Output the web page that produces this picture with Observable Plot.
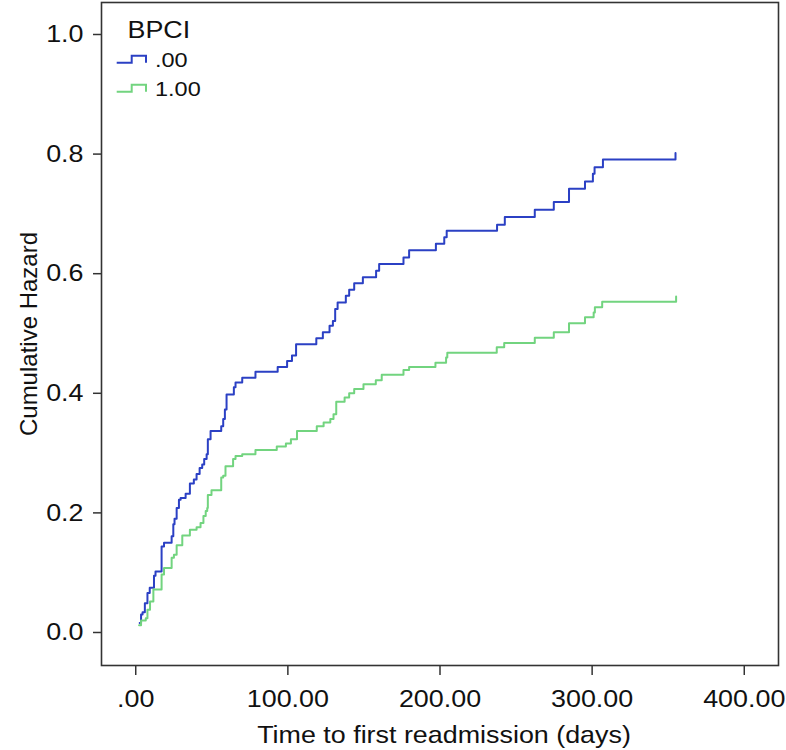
<!DOCTYPE html>
<html>
<head>
<meta charset="utf-8">
<script src="https://cdn.jsdelivr.net/npm/d3@7"></script>
<script src="https://cdn.jsdelivr.net/npm/@observablehq/plot@0.6"></script>
<style>
  html, body { margin: 0; padding: 0; background: #fff; }
  #wrap { position: relative; width: 786px; height: 750px; }
  #legend { position: absolute; left: 0; top: 0; pointer-events: none; }
</style>
</head>
<body>
<div id="wrap"></div>
<script>
// ---- data ----
const categories = [".00", "1.00"];
const seriesColors = ["#2b40c4", "#72d47f"];
const legendTitle = "BPCI";
const xTitle = "Time to first readmission (days)";
const yTitle = "Cumulative Hazard";
const xTicks = [0, 100, 200, 300, 400];
const xTickLabels = [".00", "100.00", "200.00", "300.00", "400.00"];
const yTicks = [0, 0.2, 0.4, 0.6, 0.8, 1.0];
const yTickLabels = ["0.0", "0.2", "0.4", "0.6", "0.8", "1.0"];

// BPCI = .00
const blueTimes = [2.6, 3.5, 4.5, 6, 7.7, 9.2, 12, 13, 17, 18.6, 23.6, 24.7, 25.5, 26.9, 28.4, 29.5, 32.8, 35.6, 38.2, 40,
  42, 43.7, 45, 46.6, 47.4, 49.2, 56.2, 57.5, 58.6, 59.7, 64.5, 65.6, 70, 78.7, 93.3, 99.5, 102.7, 105.4, 118.7, 123,
  127.4, 129.6, 131.1, 132.7, 138.1, 140.3, 143.6, 149.3, 158, 160, 176, 179.7, 197.3, 202.8, 204.4, 237.5, 242.6, 262.3,
  274.8, 284.8, 295.3, 300.5, 301.6, 307.1, 354.8];
const blueHazards = [0.016, 0.030, 0.034, 0.049, 0.066, 0.075, 0.095, 0.102, 0.144, 0.150, 0.161, 0.181, 0.190, 0.208, 0.222, 0.225, 0.232, 0.249, 0.256, 0.265,
  0.275, 0.281, 0.290, 0.298, 0.323, 0.337, 0.345, 0.357, 0.373, 0.398, 0.410, 0.418, 0.426, 0.436, 0.444, 0.454, 0.463, 0.482, 0.492, 0.502,
  0.513, 0.521, 0.541, 0.552, 0.563, 0.573, 0.584, 0.594, 0.605, 0.616, 0.627, 0.639, 0.650, 0.661, 0.672, 0.682, 0.695, 0.707,
  0.720, 0.742, 0.754, 0.767, 0.778, 0.791, 0.802];

// BPCI = 1.00
const greenTimes = [2.2, 3.5, 6.6, 7.7, 9.4, 11.6, 17, 18.6, 23.6, 25.1, 26.9, 30.6, 35.6, 40, 42.6, 44.5, 46, 47, 47.4, 49.8,
  56.2, 57.5, 59, 64, 65.6, 70, 78.7, 92.7, 98.7, 102, 106, 119, 123.5, 127.9, 130, 131.8, 137.3, 140.3, 143.6, 149.7,
  157.8, 161.7, 176, 179.7, 197, 204, 204.8, 237.3, 242.2, 262.3, 274.8, 284.8, 295.3, 301, 301.8, 306.6, 355.2];
const greenHazards = [0.012, 0.020, 0.024, 0.038, 0.052, 0.072, 0.097, 0.108, 0.125, 0.130, 0.146, 0.162, 0.172, 0.176, 0.183, 0.195, 0.203, 0.208, 0.230, 0.238,
  0.259, 0.262, 0.278, 0.290, 0.295, 0.298, 0.305, 0.311, 0.316, 0.323, 0.337, 0.345, 0.351, 0.357, 0.365, 0.386, 0.393, 0.400, 0.407, 0.415,
  0.422, 0.431, 0.439, 0.444, 0.451, 0.460, 0.468, 0.477, 0.484, 0.493, 0.502, 0.517, 0.527, 0.535, 0.544, 0.553, 0.562];

const rows = [
  ...blueTimes.map((t, i) => ({group: categories[0], t, h: blueHazards[i]})),
  ...greenTimes.map((t, i) => ({group: categories[1], t, h: greenHazards[i]}))
];

const FONT = "'Liberation Sans', Arial, Helvetica, sans-serif";

const chart = Plot.plot({
  width: 786,
  height: 750,
  marginLeft: 101,
  marginRight: 8,
  marginTop: 2,
  marginBottom: 85,
  style: {fontFamily: FONT, color: "#111", background: "white", overflow: "visible"},
  x: {domain: [-22.5, 422.5]},
  y: {domain: [-0.0552, 1.0535]},
  color: {domain: categories, range: seriesColors},
  marks: [
    Plot.line(rows, {x: "t", y: "h", z: "group", stroke: "group", curve: "step-after", strokeWidth: 2}),
    Plot.frame({stroke: "#333", strokeWidth: 1.6}),
    Plot.axisX({ticks: xTicks, tickFormat: d => xTickLabels[xTicks.indexOf(d)], tickSize: 10, tickPadding: 14,
      fontSize: 24, label: null, stroke: "#333", strokeWidth: 1.5}),
    Plot.axisY({ticks: yTicks, tickFormat: d => yTickLabels[yTicks.indexOf(d)], tickSize: 8, tickPadding: 10,
      fontSize: 24, label: null, stroke: "#333", strokeWidth: 1.5}),
    Plot.text([xTitle], {text: d => d, frameAnchor: "bottom", lineAnchor: "top", dy: 60, dx: 4, fontSize: 24}),
    Plot.text([yTitle], {text: d => d, frameAnchor: "left", textAnchor: "middle", rotate: -90, dx: -72, fontSize: 24})
  ]
});

// horizontal widening of upright text to match the reference glyph proportions
chart.querySelectorAll("text").forEach(t => {
  const tr = t.getAttribute("transform") || "";
  if (tr.includes("rotate")) return;
  const x = parseFloat(t.getAttribute("x") || "0") || 0;
  if (t.hasAttribute("x")) t.setAttribute("x", "0");
  t.setAttribute("transform", `${tr} translate(${x},0) scale(1.12,1)`);
});

const wrap = document.getElementById("wrap");
wrap.appendChild(chart);

// legend overlay (inside the plot's top-left corner), built from the category arrays
const ns = "http://www.w3.org/2000/svg";
const leg = document.createElementNS(ns, "svg");
leg.setAttribute("id", "legend");
leg.setAttribute("width", 786);
leg.setAttribute("height", 120);
const title = document.createElementNS(ns, "text");
title.setAttribute("transform", "translate(127.5,38.3) scale(1.12,1)");
title.setAttribute("font-family", FONT);
title.setAttribute("font-size", 24);
title.setAttribute("fill", "#111");
title.textContent = legendTitle;
leg.appendChild(title);
categories.forEach((c, i) => {
  const base = 62.7 + 29 * i;
  const p = document.createElementNS(ns, "path");
  p.setAttribute("d", `M116.7,${base}H131.7V${base - 7}H146V${base}`);
  p.setAttribute("fill", "none");
  p.setAttribute("stroke", seriesColors[i]);
  p.setAttribute("stroke-width", 2);
  leg.appendChild(p);
  const tx = document.createElementNS(ns, "text");
  tx.setAttribute("transform", `translate(155,${base + 3.9}) scale(1.12,1)`);
  tx.setAttribute("font-family", FONT);
  tx.setAttribute("font-size", 21);
  tx.setAttribute("fill", "#111");
  tx.textContent = c;
  leg.appendChild(tx);
});
wrap.appendChild(leg);
</script>
</body>
</html>
